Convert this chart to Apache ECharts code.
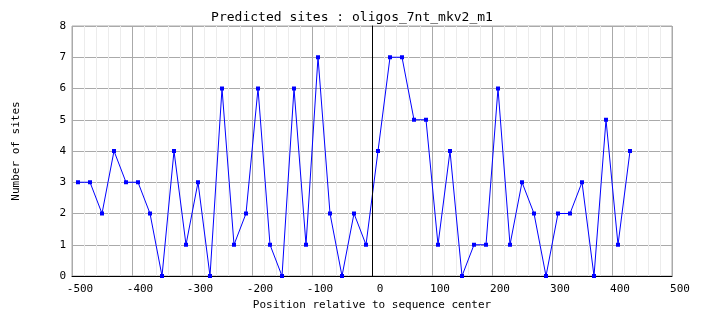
<!DOCTYPE html>
<html>
<head>
<meta charset="utf-8">
<script src="https://cdn.jsdelivr.net/npm/echarts@6/dist/echarts.min.js"></script>
<style>
  html, body { margin: 0; padding: 0; background: #ffffff; }
  #chart { width: 704px; height: 328px; }
</style>
</head>
<body>
<div id="chart"></div>
<script>
// Window centres (bp relative to sequence centre) and the number of predicted sites in each
const positions = [-490, -470, -450, -430, -410, -390, -370, -350, -330, -310,
                   -290, -270, -250, -230, -210, -190, -170, -150, -130, -110,
                   -90, -70, -50, -30, -10, 10, 30, 50, 70, 90,
                   110, 130, 150, 170, 190, 210, 230, 250, 270, 290,
                   310, 330, 350, 370, 390, 410, 430];
const sites = [3, 3, 2, 4, 3, 3, 2, 0, 4, 1,
               3, 0, 6, 1, 2, 6, 1, 0, 6, 1,
               7, 2, 0, 2, 1, 4, 7, 7, 5, 5,
               1, 4, 0, 1, 1, 6, 1, 3, 2, 0,
               2, 2, 3, 0, 5, 1, 4];

const titleText = 'Predicted sites : oligos_7nt_mkv2_m1';
const xTitle = 'Position relative to sequence center';
const yTitle = 'Number of sites';

const font = '"DejaVu Sans Mono", "Liberation Mono", monospace';

const chart = echarts.init(document.getElementById('chart'), null, { renderer: 'canvas' });

chart.setOption({
  backgroundColor: '#ffffff',
  animation: false,
  title: {
    text: titleText,
    left: 'center',
    top: 6,
    textStyle: { fontFamily: font, fontSize: 13, fontWeight: 'normal', color: '#000000' }
  },
  grid: {
    left: 72, right: 32, top: 26, bottom: 52,
    show: true, borderColor: '#aaaaaa', borderWidth: 1, backgroundColor: '#ffffff'
  },
  xAxis: {
    type: 'value',
    min: -500, max: 500, interval: 100,
    name: xTitle,
    nameLocation: 'middle',
    nameGap: 24,
    nameTextStyle: { fontFamily: font, fontSize: 11, color: '#000000' },
    axisLine: { show: true, onZero: false, lineStyle: { color: '#000000', width: 1 } },
    axisTick: { show: false },
    minorTick: { show: false, splitNumber: 5 },
    axisLabel: { fontFamily: font, fontSize: 11, color: '#000000', margin: 8, padding: [0, 0, 0, 16] },
    splitLine: { show: true, lineStyle: { color: '#aaaaaa', width: 1 } },
    minorSplitLine: { show: true, lineStyle: { color: '#ececec', width: 1 } }
  },
  yAxis: {
    type: 'value',
    min: 0, max: 8, interval: 1,
    name: yTitle,
    nameLocation: 'middle',
    nameGap: 50,
    nameRotate: 90,
    nameTextStyle: { fontFamily: font, fontSize: 11, color: '#000000' },
    axisLine: { show: true, lineStyle: { color: '#000000', width: 1 } },
    axisTick: { show: false },
    minorTick: { show: false },
    minorSplitLine: { show: false },
    axisLabel: { fontFamily: font, fontSize: 11, color: '#000000', margin: 6 },
    splitLine: { show: true, lineStyle: { color: '#aaaaaa', width: 1 } }
  },
  series: [{
    type: 'line',
    data: positions.map((p, i) => [p, sites[i]]),
    symbol: 'rect',
    symbolSize: 4,
    showAllSymbol: true,
    lineStyle: { color: '#0000ff', width: 1 },
    itemStyle: { color: '#0000ff' },
    markLine: {
      silent: true,
      symbol: 'none',
      label: { show: false },
      lineStyle: { color: '#000000', width: 1, type: 'solid' },
      data: [{ xAxis: 0 }]
    }
  }]
});
</script>
</body>
</html>
